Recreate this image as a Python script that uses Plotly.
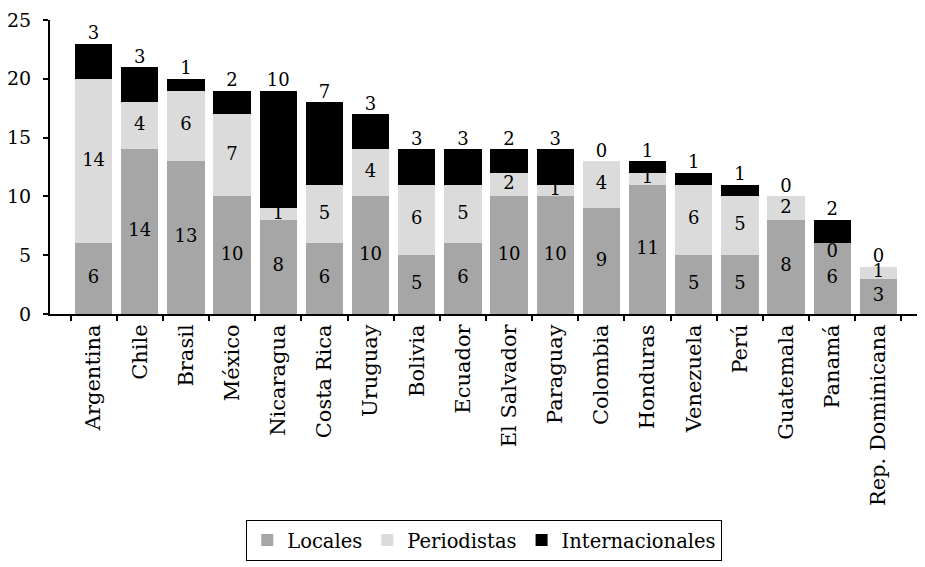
import plotly.graph_objects as go

countries = ["Argentina", "Chile", "Brasil", "México", "Nicaragua", "Costa Rica",
             "Uruguay", "Bolivia", "Ecuador", "El Salvador", "Paraguay", "Colombia",
             "Honduras", "Venezuela", "Perú", "Guatemala", "Panamá", "Rep. Dominicana"]
locales = [6, 14, 13, 10, 8, 6, 10, 5, 6, 10, 10, 9, 11, 5, 5, 8, 6, 3]
periodistas = [14, 4, 6, 7, 1, 5, 4, 6, 5, 2, 1, 4, 1, 6, 5, 2, 0, 1]
internacionales = [3, 3, 1, 2, 10, 7, 3, 3, 3, 2, 3, 0, 1, 1, 1, 0, 2, 0]

FONT = "DejaVu Serif"
colors = {"Locales": "#a5a6a5", "Periodistas": "#dadbda", "Internacionales": "#000000"}

fig = go.Figure()
for name, vals in [("Locales", locales), ("Periodistas", periodistas),
                   ("Internacionales", internacionales)]:
    fig.add_trace(go.Bar(x=countries, y=vals, name=name,
                         marker=dict(color=colors[name], line=dict(width=0))))

# data labels
LFS = 18
loc_mid = [v / 2 for v in locales]
per_mid = [l + p / 2 for l, p in zip(locales, periodistas)]
per_pos = ["bottom center" if p == 0 else "middle center" for p in periodistas]
totals = [l + p + i for l, p, i in zip(locales, periodistas, internacionales)]

fig.add_trace(go.Scatter(x=countries, y=loc_mid, mode="text",
                         text=[str(v) for v in locales], showlegend=False,
                         textfont=dict(family=FONT, size=LFS, color="black"),
                         hoverinfo="skip"))
fig.add_trace(go.Scatter(x=countries, y=per_mid, mode="text",
                         text=[str(v) for v in periodistas], showlegend=False,
                         textposition=per_pos,
                         textfont=dict(family=FONT, size=LFS, color="black"),
                         hoverinfo="skip"))
fig.add_trace(go.Scatter(x=countries, y=totals, mode="text",
                         text=[str(v) for v in internacionales], showlegend=False,
                         textposition="top center",
                         textfont=dict(family=FONT, size=LFS, color="black"),
                         hoverinfo="skip"))

fig.update_layout(
    template="none",
    barmode="stack",
    bargap=0.19,
    width=917, height=559,
    margin=dict(l=42, r=3, t=12, b=253, autoexpand=False),
    plot_bgcolor="white", paper_bgcolor="white",
    font=dict(family=FONT, size=20, color="black"),
    showlegend=True,
    legend=dict(orientation="h", x=0.498, xanchor="center", y=-0.70, yanchor="top",
                bordercolor="black", borderwidth=1, bgcolor="white",
                font=dict(family=FONT, size=19.5, color="black"),
                traceorder="normal", itemwidth=30, tracegroupgap=0),
)
fig.update_xaxes(showline=True, linecolor="black", linewidth=2, ticks="outside",
                 tickson="boundaries", ticklen=5, tickcolor="black", tickwidth=2,
                 tickangle=-90, showgrid=False, categoryorder="array", automargin=False,
                 categoryarray=countries, tickfont=dict(family=FONT, size=21))
fig.update_yaxes(range=[0, 25], dtick=5, showline=True, linecolor="black", linewidth=2,
                 ticks="outside", ticklen=5, tickcolor="black", tickwidth=2, automargin=False,
                 showgrid=False, zeroline=False, tickfont=dict(family=FONT, size=19),
                 ticklabelstandoff=8, ticklabeloverflow="allow")

fig.write_html("out.html")
